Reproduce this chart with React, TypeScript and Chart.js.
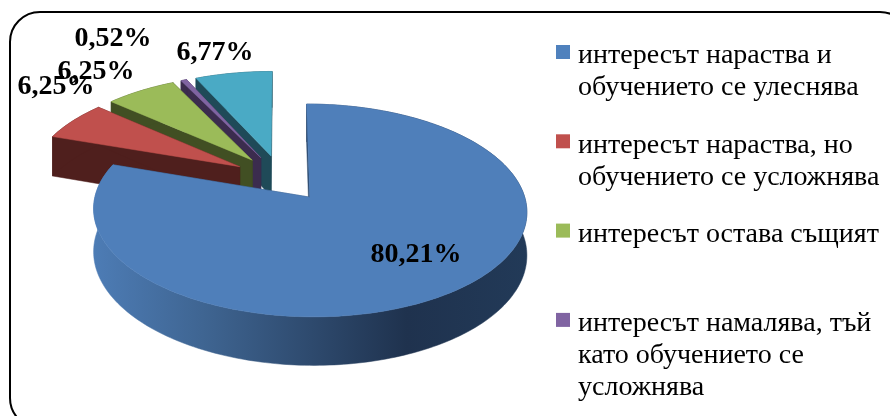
import React, { useEffect, useRef } from "react";
import { Chart, registerables } from "chart.js";

Chart.register(...registerables);

const legendLines: string[][] = [
  ["интересът нараства и", "обучението се улеснява"],
  ["интересът нараства, но", "обучението се усложнява"],
  ["интересът остава същият", ""],
  ["интересът намалява, тъй", "като обучението се", "усложнява"],
  [],
];
const values = [80.21, 6.25, 6.25, 0.52, 6.77];
const valueLabels = ["80,21%", "6,25%", "6,25%", "0,52%", "6,77%"];
const topColors = ["#4f7fba", "#c0504d", "#9bbb59", "#8064a2", "#4aaac5"];
const wallColors = ["#2c4a6e", "#4f1f1d", "#414f23", "#3b2c4e", "#1f4a58"];
const legendColors = ["#4f81bd", "#c0504d", "#9bbb59", "#8064a2", "#4bacc6"];

// View of the tilted disc
const VIEW = { cx: 281, cy: 178, rx: 210, ry: 100, persp: 8.18, depth: 41.5, explode: 0.23 };
const LABEL_POS: [number, number][] = [[416, 255], [56, 87], [96, 72], [113, 39], [215, 53]];
const LEGEND_LINE = 32;
const LEGEND_GAP = 25.3;
const LEGEND_SWATCH = { x: 556, size: 14, drop: 3 };

function project(u: number, v: number, z: number): [number, number] {
  const s = VIEW.persp / (VIEW.persp + v);
  return [VIEW.cx + VIEW.rx * u * s, VIEW.cy - VIEW.ry * v * s + z * VIEW.depth * s];
}

function fillPoly(ctx: CanvasRenderingContext2D, pts: [number, number][], fill: string | CanvasGradient) {
  ctx.beginPath();
  pts.forEach((p, i) => (i ? ctx.lineTo(p[0], p[1]) : ctx.moveTo(p[0], p[1])));
  ctx.closePath();
  ctx.fillStyle = fill;
  ctx.fill();
  ctx.strokeStyle = fill;
  ctx.lineWidth = 0.5;
  ctx.stroke();
}

const pie3d = {
  id: "pie3d",
  afterLayout(chart: any) {
    const l = chart.legend;
    l.left = 536.7;
    l.right = 890;
    l.top = 16.7;
    l.bottom = 800;
  },
  beforeDraw(chart: any) {
    const ctx = chart.ctx as CanvasRenderingContext2D;
    ctx.save();
    ctx.fillStyle = "#fff";
    ctx.fillRect(0, 0, 890, 416);
    ctx.beginPath();
    ctx.roundRect(10, 12, 900, 416, 30);
    ctx.strokeStyle = "#000";
    ctx.lineWidth = 2;
    ctx.stroke();
    ctx.restore();
  },
  beforeDatasetsDraw(chart: any) {
    const ctx = chart.ctx as CanvasRenderingContext2D;
    const arcs = chart.getDatasetMeta(0).data;
    const order = [4, 3, 2, 1, 0];
    ctx.save();
    for (const i of order) {
      const el = arcs[i];
      const a0 = el.startAngle + Math.PI / 2;
      const a1 = el.endAngle + Math.PI / 2;
      const mid = (a0 + a1) / 2;
      const ax = VIEW.explode * Math.sin(mid);
      const ay = VIEW.explode * Math.cos(mid);
      const n = Math.max(4, Math.ceil((a1 - a0) / 0.02));
      const rim: [number, number][] = [];
      for (let k = 0; k <= n; k++) {
        const t = a0 + ((a1 - a0) * k) / n;
        rim.push([ax + Math.sin(t), ay + Math.cos(t)]);
      }
      const P = (q: [number, number], z: number) => project(q[0], q[1], z);
      const apex: [number, number] = [ax, ay];
      const wall = wallColors[i];
      // radial walls
      fillPoly(ctx, [P(apex, 0), P(rim[0], 0), P(rim[0], 1), P(apex, 1)], wall);
      fillPoly(ctx, [P(apex, 0), P(rim[n], 0), P(rim[n], 1), P(apex, 1)], wall);
      // outer wall
      let outer: string | CanvasGradient = wall;
      if (i === 0) {
        const g = ctx.createLinearGradient(94, 0, 528, 0);
        g.addColorStop(0, "#4d7cb5");
        g.addColorStop(0.25, "#3f6592");
        g.addColorStop(0.72, "#1f324e");
        g.addColorStop(1, "#223a58");
        outer = g;
      }
      const outerPts = [...rim.map((q) => P(q, 0)), ...rim.slice().reverse().map((q) => P(q, 1))];
      fillPoly(ctx, outerPts, outer);
      // top face
      fillPoly(ctx, [P(apex, 0), ...rim.map((q) => P(q, 0))], topColors[i]);
    }
    ctx.restore();
    return false;
  },
  afterDraw(chart: any) {
    const ctx = chart.ctx as CanvasRenderingContext2D;
    ctx.save();
    ctx.font = "bold 28px 'Liberation Serif'";
    ctx.fillStyle = "#000";
    ctx.textAlign = "center";
    ctx.textBaseline = "middle";
    valueLabels.forEach((t, i) => ctx.fillText(t, LABEL_POS[i][0], LABEL_POS[i][1]));
    // legend swatches sit a little above the first text line of each entry
    let y = chart.legend.top + LEGEND_GAP + LEGEND_SWATCH.drop;
    legendLines.forEach((lines, i) => {
      if (!lines.length) return;
      ctx.fillStyle = legendColors[i];
      ctx.fillRect(LEGEND_SWATCH.x, y, LEGEND_SWATCH.size, LEGEND_SWATCH.size);
      y += lines.length * LEGEND_LINE + LEGEND_GAP;
    });
    ctx.restore();
  },
};

export default function App() {
  const ref = useRef<HTMLCanvasElement>(null);
  useEffect(() => {
    const chart = new Chart(ref.current!, {
      type: "pie",
      data: {
        labels: legendLines.map((l) => l.join(" ").trim()),
        datasets: [{ data: values, backgroundColor: legendColors, borderWidth: 0 }],
      },
      options: {
        responsive: false,
        animation: false,
        plugins: {
          tooltip: { enabled: false },
          legend: {
            position: "right",
            align: "start",
            onClick: () => {},
            labels: {
              font: { family: "'Liberation Serif'", size: 28, lineHeight: LEGEND_LINE / 28 },
              color: "#000",
              boxWidth: 2,
              boxHeight: 2,
              padding: LEGEND_GAP,
              textAlign: "left",
              generateLabels: () =>
                legendLines
                  .map((lines, i) => ({
                    text: lines,
                    fillStyle: "rgba(0,0,0,0)",
                    strokeStyle: "rgba(0,0,0,0)",
                    lineWidth: 0,
                    hidden: false,
                    index: i,
                    datasetIndex: 0,
                  }))
                  .filter((it) => it.text.length > 0),
            },
          },
        },
      } as any,
      plugins: [pie3d as any],
    });
    return () => chart.destroy();
  }, []);
  return (
    <div style={{ position: "fixed", left: 0, top: 0, width: 890, height: 416 }}>
      <canvas ref={ref} width={890} height={416} style={{ display: "block" }} />
    </div>
  );
}
